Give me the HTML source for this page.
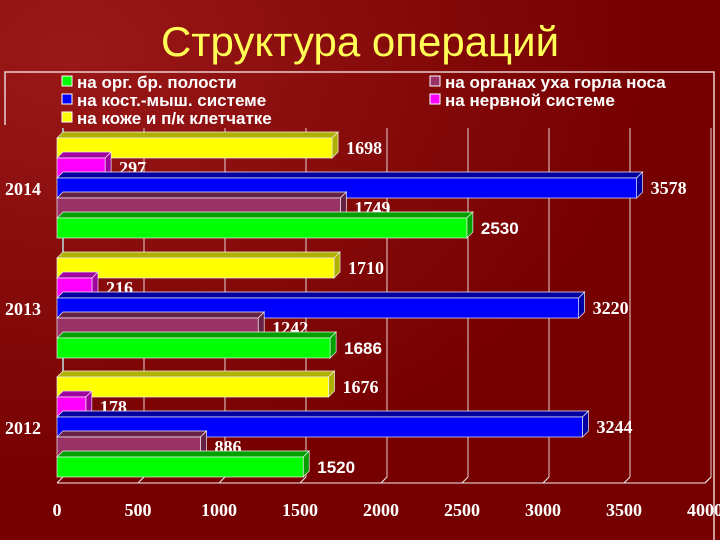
<!DOCTYPE html>
<html><head><meta charset="utf-8"><style>
body{margin:0;width:720px;height:540px;overflow:hidden;background:#780000}
svg{display:block}
</style></head><body>
<svg width="720" height="540">
<defs><radialGradient id="bg" cx="0.1" cy="0.1" r="0.8"><stop offset="0" stop-color="#9a1818"/><stop offset="1" stop-color="#760000"/></radialGradient></defs>
<rect width="720" height="540" fill="url(#bg)"/>
<text x="360" y="56" text-anchor="middle" font-family="Liberation Sans, sans-serif" font-size="42" fill="#ffff55">Структура операций</text>
<path d="M5 125 V72 H714 V540" fill="none" stroke="#e8d0d0" stroke-width="1.5"/>
<g id="legend" font-family="Liberation Sans, sans-serif" font-size="17" font-weight="bold" fill="#fff"></g>
<g id="grid"></g>
<g id="bars"></g>
<g id="axis"></g>
</svg>
<script>
const years=['2014','2013','2012'];
const skin=[1698,1710,1676];
const nerve=[297,216,178];
const bone=[3578,3220,3244];
const ent=[1749,1242,886];
const abd=[2530,1686,1520];
const ticks=[0,500,1000,1500,2000,2500,3000,3500,4000];
const series=[
 {name:'на коже и п/к клетчатке',vals:skin,c:'#ffff00',s:'#b0b000',lx:62,ly:124},
 {name:'на нервной системе',vals:nerve,c:'#ff00ff',s:'#a000a0',lx:430,ly:106},
 {name:'на кост.-мыш. системе',vals:bone,c:'#0000ff',s:'#0000a0',lx:62,ly:106},
 {name:'на органах уха горла носа',vals:ent,c:'#993366',s:'#662244',lx:430,ly:88},
 {name:'на орг. бр. полости',vals:abd,c:'#00ff00',s:'#00a000',lx:62,ly:88}
];
const NS='http://www.w3.org/2000/svg';
const x0=57,k=0.162,d=6,yAxis=483;
const X=v=>x0+v*k;
const gTop=[138,258,377],bh=20;
function mk(t,a,p){const e=document.createElementNS(NS,t);for(const q in a)e.setAttribute(q,a[q]);p.appendChild(e);return e;}
const lg=document.getElementById('legend');
series.forEach(s=>{
 const r=mk('rect',{x:s.lx,y:s.ly-12,width:10,height:10,fill:s.c,stroke:'#fff','stroke-width':1},lg);
 
 
 const t=mk('text',{x:s.lx+15,y:s.ly},lg);t.textContent=s.name;
 
 
});
const gr=document.getElementById('grid');
ticks.forEach(v=>{if(v>0){const l=mk('line',{x1:X(v)+d,x2:X(v)+d,y1:128,y2:yAxis-d,stroke:'#e8d0d0','stroke-width':1},gr);
 
 }});
mk('line',{x1:x0+d,x2:x0+d,y1:128,y2:yAxis-d,stroke:'#aaa','stroke-width':2},gr);
const bg=document.getElementById('bars');
years.forEach((yr,g)=>{
 series.forEach((s,i)=>{
  const v=s.vals[g],y=gTop[g]+i*bh,x1=X(v);
  const grp=mk('g',{},bg);
  
  
  mk('polygon',{points:`${x0},${y} ${x0+d},${y-d} ${x1+d},${y-d} ${x1},${y}`,fill:s.s,stroke:'#eee','stroke-width':0.7},grp);
  mk('polygon',{points:`${x1},${y} ${x1+d},${y-d} ${x1+d},${y+bh-d} ${x1},${y+bh}`,fill:s.s,stroke:'#eee','stroke-width':0.7},grp);
  mk('rect',{x:x0,y:y,width:x1-x0,height:bh,fill:s.c,stroke:'#eee','stroke-width':0.7},grp);
  const green=i===4;
  const t=mk('text',{x:x1+14,y:y+bh/2+6,fill:'#fff','font-size':green?17:18,'font-weight':'bold','font-family':green?'Liberation Sans, sans-serif':'Liberation Serif, serif'},grp);
  t.textContent=v;
  
  
 });
 const t=mk('text',{x:5,y:gTop[g]+57,fill:'#fff','font-size':18,'font-weight':'bold','font-family':'Liberation Serif, serif'},bg);
 t.textContent=yr;
 
 
});
const ax=document.getElementById('axis');
mk('polyline',{points:`${x0},${yAxis} ${X(4000)},${yAxis} ${X(4000)+d},${yAxis-d}`,fill:'none',stroke:'#eee','stroke-width':1},ax);
ticks.forEach(v=>{
 mk('line',{x1:X(v),y1:yAxis,x2:X(v)+d,y2:yAxis-d,stroke:'#eee'},ax);
 const t=mk('text',{x:X(v),y:516,'text-anchor':'middle',fill:'#fff','font-size':18,'font-weight':'bold','font-family':'Liberation Serif, serif'},ax);
 t.textContent=v;
 
 
});
</script>
</body></html>
